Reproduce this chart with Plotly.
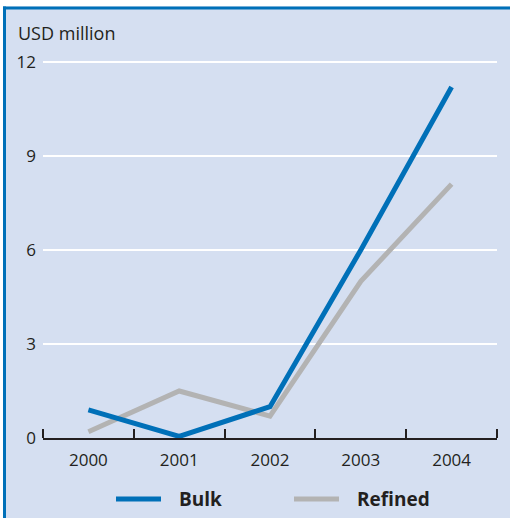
import plotly.graph_objects as go

# Annual values, USD million
years = ["2000", "2001", "2002", "2003", "2004"]
bulk = [0.9, 0.05, 1.0, 6.0, 11.2]
refined = [0.2, 1.5, 0.7, 5.0, 8.1]
y_ticks = [0, 3, 6, 9, 12]

BG = "#d5dff1"
BLUE = "#0070b8"
GREY = "#b3b3b3"
INK = "#231f20"
FONT = "Open Sans"

W, H = 510, 518
L, R, T, B = 43, 13, 60, 80
PW, PH = W - L - R, H - T - B
Y_MAX = 12.06  # a hair above 12 so the top gridline is kept


def px(x):
    return (x - L) / PW


def py(y):
    return (H - B - y) / PH


xpos = list(range(len(years)))

fig = go.Figure()
fig.add_trace(go.Scatter(x=xpos, y=refined, mode="lines", name="Refined",
                         line=dict(color=GREY, width=5), showlegend=False))
fig.add_trace(go.Scatter(x=xpos, y=bulk, mode="lines", name="Bulk",
                         line=dict(color=BLUE, width=5), showlegend=False))

shapes = [
    # white margin strips and blue frame on top / left edges
    dict(type="rect", xref="paper", yref="paper", x0=px(0), x1=px(W), y0=py(0), y1=py(6.5),
         fillcolor="white", line_width=0, layer="above"),
    dict(type="rect", xref="paper", yref="paper", x0=px(0), x1=px(3), y0=py(0), y1=py(H),
         fillcolor="white", line_width=0, layer="above"),
    dict(type="rect", xref="paper", yref="paper", x0=px(3), x1=px(W), y0=py(6.5), y1=py(9.5),
         fillcolor=BLUE, line_width=0, layer="above"),
    dict(type="rect", xref="paper", yref="paper", x0=px(3), x1=px(6), y0=py(6.5), y1=py(H),
         fillcolor=BLUE, line_width=0, layer="above"),
]

# legend swatches
legend_y = py(499)
for (x0, x1, col) in [(116, 161, BLUE), (294, 339, GREY)]:
    shapes.append(dict(type="line", xref="paper", yref="paper", x0=px(x0), x1=px(x1),
                       y0=legend_y, y1=legend_y, line=dict(color=col, width=5)))

annotations = [
    dict(text="USD million", xref="paper", yref="paper", x=px(16), y=py(33),
         xanchor="left", yanchor="middle", showarrow=False,
         font=dict(family=FONT, size=18, color=INK)),
    dict(text="<b>Bulk</b>", xref="paper", yref="paper", x=px(177), y=legend_y,
         xanchor="left", yanchor="middle", showarrow=False,
         font=dict(family=FONT, size=19, color=INK)),
    dict(text="<b>Refined</b>", xref="paper", yref="paper", x=px(355), y=legend_y,
         xanchor="left", yanchor="middle", showarrow=False,
         font=dict(family=FONT, size=19, color=INK)),
]

fig.update_layout(
    width=W, height=H,
    margin=dict(l=L, r=R, t=T, b=B, pad=0),
    paper_bgcolor=BG, plot_bgcolor=BG,
    font=dict(family=FONT, size=17, color=INK),
    shapes=shapes, annotations=annotations,
    showlegend=False,
    xaxis=dict(
        range=[-0.5, len(years) - 0.5],
        tickvals=xpos, ticktext=years,
        ticks="", showgrid=False, zeroline=False,
        showline=True, linecolor=INK, linewidth=2,
        ticklabelstandoff=6,
        minor=dict(tick0=-0.5, dtick=1, ticks="inside", ticklen=9,
                   tickwidth=2, tickcolor=INK, showgrid=False),
        fixedrange=True,
    ),
    yaxis=dict(
        range=[0, Y_MAX], tickvals=y_ticks,
        ticks="", showgrid=True, gridcolor="white", gridwidth=2,
        zeroline=False, showline=False,
        ticklabelstandoff=6,
        fixedrange=True,
    ),
)

fig.write_html("out.html")
